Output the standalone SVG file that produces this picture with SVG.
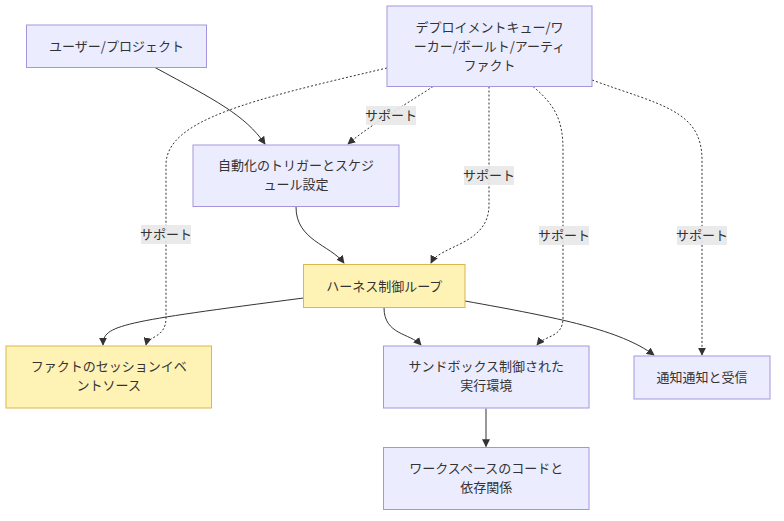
<svg xmlns="http://www.w3.org/2000/svg" width="784" height="521" viewBox="0 0 784 521">
<defs>
<style>
.n rect{fill:#ECECFF;stroke:#A595DE;stroke-width:1}
.y rect{fill:#FFF2B5;stroke:#D9B84E;stroke-width:1}
text{font-family:"Noto Sans CJK JP","Liberation Sans",sans-serif;font-size:13px;fill:#333;text-anchor:middle}
.e path{fill:none;stroke:#333;stroke-width:1}
.e path.d{stroke-dasharray:2 2}
.lb rect{fill:#e8e8e8;opacity:0.9}
</style>
<marker id="ah" viewBox="0 0 10 10" refX="9" refY="5" markerWidth="8" markerHeight="8" orient="auto-start-reverse" markerUnits="userSpaceOnUse">
<path d="M0,0 L10,5 L0,10 z" fill="#333"/>
</marker>
</defs>
<rect width="784" height="521" fill="#fff"/>
<g class="e" id="edges">
<path d="M155,67.5 C215,100 245,115 265,144" marker-end="url(#ah)"/>
<path class="d" d="M387,68 C250,100 166,120 166,165 L166,318 C166,338 148,336 146,345" marker-end="url(#ah)"/>
<path class="d" d="M433,86.5 C405,105 370,125 348,144" marker-end="url(#ah)"/>
<path class="d" d="M489,86.5 L489,205 C489,245 440,245 431,263" marker-end="url(#ah)"/>
<path class="d" d="M533,86.5 C555,105 563,120 563,150 L563,318 C563,338 545,335 537,345" marker-end="url(#ah)"/>
<path class="d" d="M592,80 C660,105 702,110 702,160 L702,355" marker-end="url(#ah)"/>
<path d="M296,207 C296,240 330,245 344,263" marker-end="url(#ah)"/>
<path d="M303.5,298 C120,322 103,325 103,345" marker-end="url(#ah)"/>
<path d="M384,307.5 C384,335 410,333 421,345" marker-end="url(#ah)"/>
<path d="M465,301 C560,318 620,330 654,355" marker-end="url(#ah)"/>
<path d="M486,408.5 L486,446.5" marker-end="url(#ah)"/>
</g>
<g class="lb" id="edge-labels">
<rect x="141" y="225" width="50" height="19"/><text x="166" y="239">サポート</text>
<rect x="366" y="106" width="50" height="19"/><text x="391" y="120">サポート</text>
<rect x="464" y="166" width="50" height="19"/><text x="489" y="180">サポート</text>
<rect x="539" y="226" width="50" height="19"/><text x="564" y="240">サポート</text>
<rect x="677" y="226" width="50" height="19"/><text x="702" y="240">サポート</text>
</g>
<g class="n" id="user"><rect x="26.5" y="25" width="180" height="42.5"/><text x="116.5" y="51">ユーザー/プロジェクト</text></g>
<g class="n" id="deploy"><rect x="387" y="6" width="205" height="80.5"/><text x="489.5" y="32">デプロイメントキュー/ワ</text><text x="489.5" y="51">ーカー/ボールト/アーティ</text><text x="489.5" y="70">ファクト</text></g>
<g class="n" id="trigger"><rect x="193" y="145" width="206" height="61.5"/><text x="296" y="170">自動化のトリガーとスケジ</text><text x="296" y="189">ュール設定</text></g>
<g class="y" id="harness"><rect x="303.5" y="264.5" width="161.5" height="43"/><text x="384.25" y="290.5">ハーネス制御ループ</text></g>
<g class="y" id="events"><rect x="6" y="346" width="205.5" height="62"/><text x="108.75" y="371">ファクトのセッションイベ</text><text x="108.75" y="390">ントソース</text></g>
<g class="n" id="sandbox"><rect x="383.5" y="346" width="205.5" height="62"/><text x="486.25" y="371">サンドボックス制御された</text><text x="486.25" y="390">実行環境</text></g>
<g class="n" id="notify"><rect x="634" y="356" width="136" height="43"/><text x="702" y="382">通知通知と受信</text></g>
<g class="n" id="workspace"><rect x="383.5" y="447.5" width="205.5" height="62"/><text x="486.25" y="472.5">ワークスペースのコードと</text><text x="486.25" y="491.5">依存関係</text></g>
</svg>
